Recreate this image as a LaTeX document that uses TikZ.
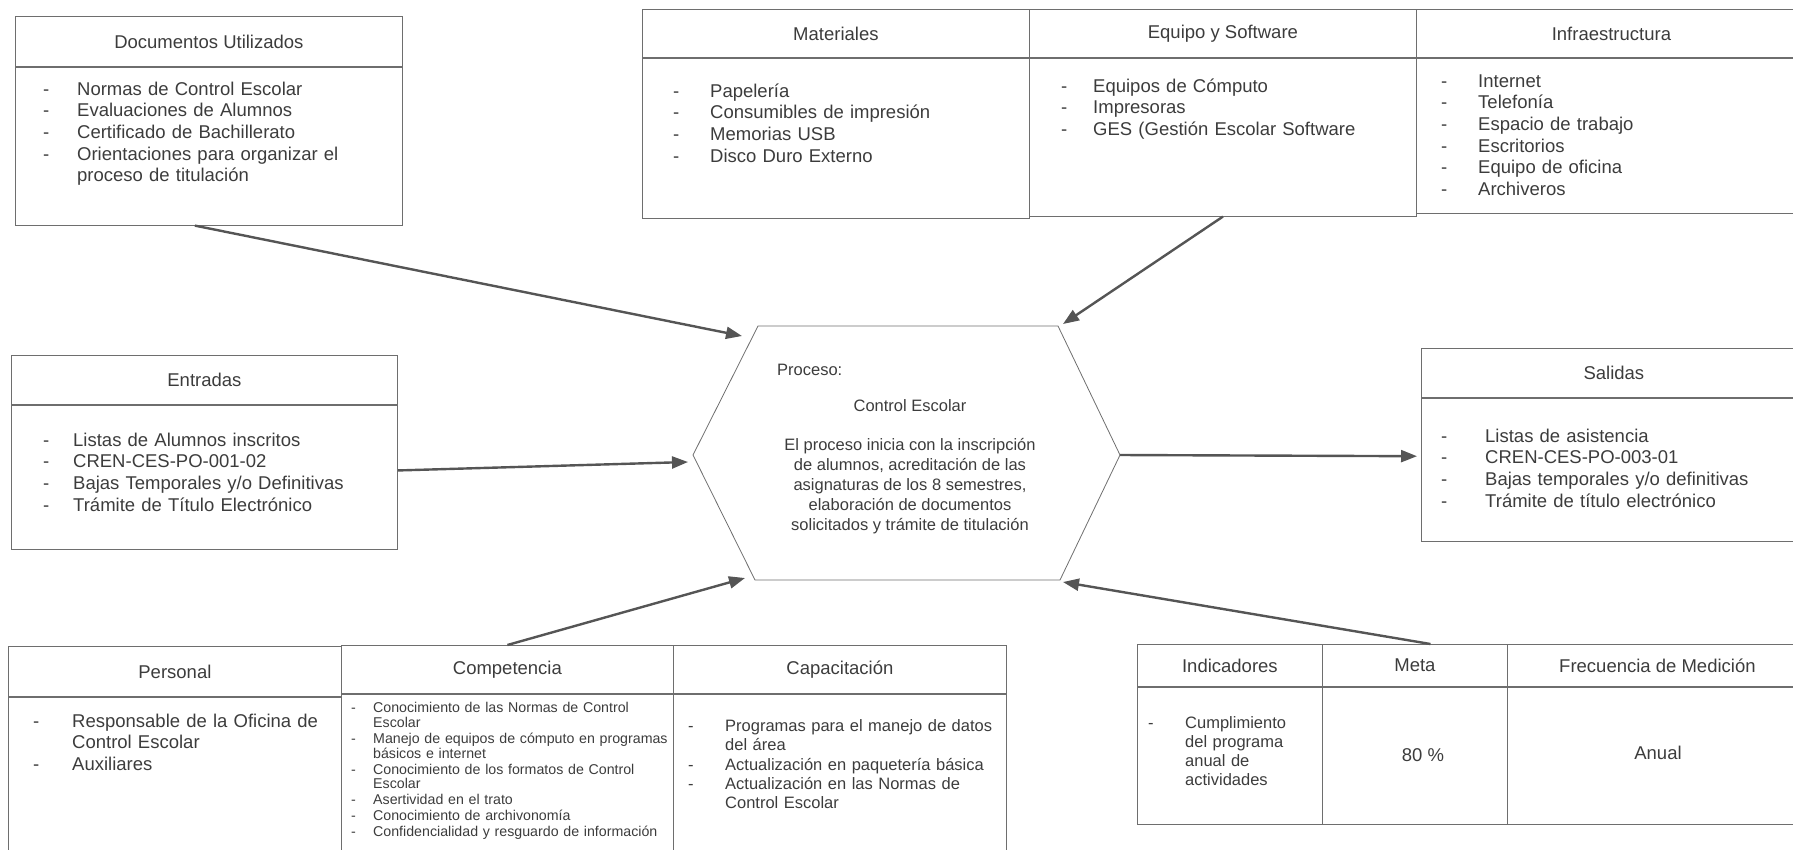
\documentclass[tikz,border=0pt]{standalone}
\usepackage{fontspec}
\setmainfont{Liberation Sans}
\usepackage{tikz}
\usetikzlibrary{arrows.meta,positioning}
\usepackage{xcolor}
\definecolor{inkgray}{RGB}{60,60,60}
\definecolor{linegray}{RGB}{110,110,110}
\definecolor{arrowgray}{RGB}{85,85,85}
\newlength{\dashw}
\newcommand{\itm}[1]{\par\noindent\makebox[\dashw][l]{-}\begin{tabular}[t]{@{}l@{}}#1\end{tabular}}
\newcommand{\bigtxt}{\fontsize{18.5}{21.6}\selectfont}
\newcommand{\midtxt}{\fontsize{16.5}{19}\selectfont}
\newcommand{\smalltxt}{\fontsize{14.2}{14.7}\selectfont}
\lineskiplimit=-100pt

\begin{document}
\begin{tikzpicture}[
    x=1pt, y=-1pt,
    hdr/.style={draw=linegray, line width=0.8pt, anchor=north west, inner sep=0pt, font=\bigtxt, text=inkgray},
    cell/.style={draw=linegray, line width=0.8pt, anchor=north west, inner sep=0pt},
    lst/.style 2 args={anchor=north west, inner sep=0pt, align=left, text width=#2, text=inkgray, execute at begin node={\setlength{\dashw}{#1}}},
    arrow/.style={-{Triangle[length=16pt,width=12pt]}, line width=2.4pt, draw=arrowgray}
]
    \useasboundingbox (0,0) rectangle (1793,849);

    % top left
    \node[hdr, minimum width=387, minimum height=50] (docH) at (15,16) {Documentos Utilizados};
    \node[cell, minimum width=387, minimum height=158] (docB) at (docH.south west) {};
    \node[lst={34pt}{360pt}, font=\bigtxt] (docL) at (43,73.4) {\itm{Normas de Control Escolar}\itm{Evaluaciones de Alumnos}\itm{Certificado de Bachillerato}\itm{Orientaciones para organizar el\\proceso de titulación}};

    % top row
    \node[hdr, minimum width=387, minimum height=48] (matH) at (642,9) {Materiales};
    \node[cell, minimum width=387, minimum height=160] (matB) at (matH.south west) {};
    \node[hdr, minimum width=387, minimum height=48] (eqH) at (1029,9) {Equipo y Software};
    \node[cell, minimum width=387, minimum height=158] (eqB) at (eqH.south west) {};
    \node[hdr, minimum width=390, minimum height=48] (infH) at (1416,9) {Infraestructura};
    \node[cell, minimum width=390, minimum height=155] (infB) at (infH.south west) {};
    \node[lst={37pt}{330pt}, font=\bigtxt] (matL) at (673,75.4) {\itm{Papelería}\itm{Consumibles de impresión}\itm{Memorias USB}\itm{Disco Duro Externo}};
    \node[lst={32pt}{340pt}, font=\bigtxt] (eqL) at (1061,70.4) {\itm{Equipos de Cómputo}\itm{Impresoras}\itm{GES (Gestión Escolar Software}};
    \node[lst={37pt}{330pt}, font=\bigtxt] (infL) at (1441,65.4) {\itm{Internet}\itm{Telefonía}\itm{Espacio de trabajo}\itm{Escritorios}\itm{Equipo de oficina}\itm{Archiveros}};

    % middle
    \node[hdr, minimum width=386, minimum height=49] (entH) at (11,355) {Entradas};
    \node[cell, minimum width=386, minimum height=144] (entB) at (entH.south west) {};
    \node[lst={30pt}{340pt}, font=\bigtxt] (entL) at (43,424.4) {\itm{Listas de Alumnos inscritos}\itm{CREN-CES-PO-001-02}\itm{Bajas Temporales y/o Definitivas}\itm{Trámite de Título Electrónico}};

    \node[hdr, minimum width=385, minimum height=49] (salH) at (1421,348) {Salidas};
    \node[cell, minimum width=385, minimum height=143] (salB) at (salH.south west) {};
    \node[lst={44pt}{330pt}, font=\bigtxt] (salL) at (1441,420.4) {\itm{Listas de asistencia}\itm{CREN-CES-PO-003-01}\itm{Bajas temporales y/o definitivas}\itm{Trámite de título electrónico}};

    % proceso
    \coordinate (hTL) at (758,326);
    \coordinate (hTR) at (1058,326);
    \coordinate (hR) at (1120,455);
    \coordinate (hBR) at (1060,580);
    \coordinate (hBL) at (755,580);
    \coordinate (hL) at (693,455);
    \draw[draw=linegray, line width=0.8pt] (hTL) -- (hTR) -- (hR) -- (hBR) -- (hBL) -- (hL) -- cycle;
    \node[anchor=base west, inner sep=0pt, font=\midtxt, text=inkgray] (procLbl) at (777,375) {Proceso:};
    \node[anchor=base, inner sep=0pt, font=\midtxt, text=inkgray] (procName) at (910,411) {Control Escolar};
    \node[anchor=base, inner sep=0pt, align=center, font=\fontsize{16.5}{19.8}\selectfont, text=inkgray] (procDesc) at (910,530) {El proceso inicia con la inscripción\\de alumnos, acreditación de las\\asignaturas de los 8 semestres,\\elaboración de documentos\\solicitados y trámite de titulación};

    % bottom left
    \node[hdr, minimum width=333, minimum height=50] (perH) at (8,646) {Personal};
    \node[cell, minimum width=333, minimum height=170] (perB) at (perH.south west) {};
    \node[hdr, minimum width=332, minimum height=48] (compH) at (341,645) {Competencia};
    \node[cell, minimum width=332, minimum height=170] (compB) at (compH.south west) {};
    \node[hdr, minimum width=333, minimum height=48] (capH) at (673,645) {Capacitación};
    \node[cell, minimum width=333, minimum height=170] (capB) at (capH.south west) {};
    \node[lst={39pt}{300pt}, font=\fontsize{18.5}{21}\selectfont] (perL) at (33,706) {\itm{Responsable de la Oficina de\\Control Escolar}\itm{Auxiliares}};
    \node[lst={22pt}{320pt}, font=\smalltxt] (compL) at (351,698) {\itm{Conocimiento de las Normas de Control\\Escolar}\itm{Manejo de equipos de cómputo en programas\\básicos e internet}\itm{Conocimiento de los formatos de Control\\Escolar}\itm{Asertividad en el trato}\itm{Conocimiento de archivonomía}\itm{Confidencialidad y resguardo de información}};
    \node[lst={37pt}{310pt}, font=\midtxt] (capL) at (688,712) {\itm{Programas para el manejo de datos\\del área}\itm{Actualización en paquetería básica}\itm{Actualización en las Normas de\\Control Escolar}};

    % bottom right
    \node[hdr, minimum width=185, minimum height=42] (indH) at (1137,644) {Indicadores};
    \node[cell, minimum width=185, minimum height=137] (indB) at (indH.south west) {};
    \node[hdr, minimum width=185, minimum height=42] (metH) at (1322,644) {Meta};
    \node[cell, minimum width=185, minimum height=137] (metB) at (metH.south west) {};
    \node[hdr, minimum width=300, minimum height=42] (freH) at (1507,644) {Frecuencia de Medición};
    \node[cell, minimum width=300, minimum height=137] (freB) at (freH.south west) {};
    \node[lst={37pt}{145pt}, font=\midtxt] (indL) at (1148,709) {\itm{Cumplimiento\\del programa\\anual de\\actividades}};
    \node[font=\bigtxt, text=inkgray] (metV) at (1423,755) {80 \%};
    \node[font=\bigtxt, text=inkgray] (freV) at (1658,753) {Anual};

    % flechas
    \coordinate (inDoc) at (742,336);
    \coordinate (inEq) at (1063,324);
    \coordinate (inEnt) at (688,462);
    \coordinate (inComp) at (745,578);
    \coordinate (inMet) at (1063,582);
    \draw[arrow] (docB.260) -- (inDoc);
    \draw[arrow] (eqB.south) -- (inEq);
    \draw[arrow] (entB.2) -- (inEnt);
    \draw[arrow] (compH.north) -- (inComp);
    \draw[arrow] (metH.54) -- (inMet);
    \draw[arrow, shorten >=4pt] (hR) -- (salB.176);
\end{tikzpicture}
\end{document}
